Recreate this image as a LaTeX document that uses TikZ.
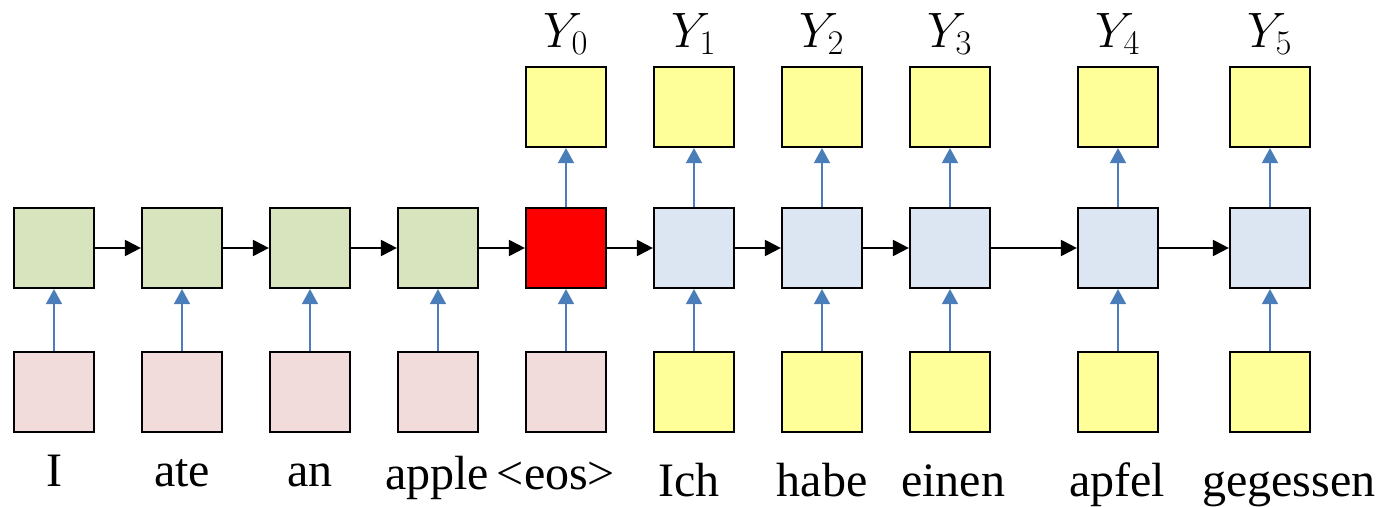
\documentclass[tikz,border=0pt]{standalone}
\usepackage{fontspec}
\setmainfont{Liberation Serif}
\usepackage{tikz}
\usetikzlibrary{arrows.meta}
\definecolor{encgreen}{HTML}{D7E4BD}
\definecolor{inpink}{HTML}{F2DCDB}
\definecolor{declight}{HTML}{DCE6F2}
\definecolor{outyellow}{HTML}{FFFF99}
\definecolor{upblue}{HTML}{4A7EBB}
\tikzset{
  cellbox/.style={draw, line width=1.1pt, minimum width=40pt, minimum height=40pt, inner sep=0pt},
  encnode/.style={cellbox, fill=encgreen},
  innode/.style={cellbox, fill=inpink},
  ctxnode/.style={cellbox, fill=red},
  decnode/.style={cellbox, fill=declight},
  ynode/.style={cellbox, fill=outyellow},
  wordlabel/.style={font=\fontsize{24}{28}\selectfont, inner sep=0pt, anchor=base},
  ylabel/.style={font=\fontsize{24}{28}\selectfont, inner sep=0pt},
  flowarrow/.style={-{Triangle[length=8pt, width=8pt]}, line width=1pt},
  uparrow/.style={-{Triangle[length=7.5pt, width=8pt]}, line width=0.85pt, draw=upblue, fill=upblue}
}
\begin{document}
\begin{tikzpicture}[x=0.5pt, y=-0.5pt]
  \useasboundingbox (0,0) rectangle (1382,507);
  % input row
  \node[innode] (in1) at (54,392) {};
  \node[innode] (in2) at (182,392) {};
  \node[innode] (in3) at (310,392) {};
  \node[innode] (in4) at (438,392) {};
  \node[innode] (in5) at (566,392) {};
  \node[ynode] (yin1) at (694,392) {};
  \node[ynode] (yin2) at (822,392) {};
  \node[ynode] (yin3) at (950,392) {};
  \node[ynode] (yin4) at (1118,392) {};
  \node[ynode] (yin5) at (1270,392) {};
  % recurrent row
  \node[encnode] (enc1) at (54,248) {};
  \node[encnode] (enc2) at (182,248) {};
  \node[encnode] (enc3) at (310,248) {};
  \node[encnode] (enc4) at (438,248) {};
  \node[ctxnode] (ctx) at (566,248) {};
  \node[decnode] (dec1) at (694,248) {};
  \node[decnode] (dec2) at (822,248) {};
  \node[decnode] (dec3) at (950,248) {};
  \node[decnode] (dec4) at (1118,248) {};
  \node[decnode] (dec5) at (1270,248) {};
  % output row
  \node[ynode] (out0) at (566,107) {};
  \node[ynode] (out1) at (694,107) {};
  \node[ynode] (out2) at (822,107) {};
  \node[ynode] (out3) at (950,107) {};
  \node[ynode] (out4) at (1118,107) {};
  \node[ynode] (out5) at (1270,107) {};
  % labels
  \node[ylabel] (lab0) at (566,34) {$Y_0$};
  \node[ylabel] (lab1) at (694,34) {$Y_1$};
  \node[ylabel] (lab2) at (822,34) {$Y_2$};
  \node[ylabel] (lab3) at (950,34) {$Y_3$};
  \node[ylabel] (lab4) at (1118,34) {$Y_4$};
  \node[ylabel] (lab5) at (1270,34) {$Y_5$};
  \node[wordlabel] (w1) at (54,487) {I};
  \node[wordlabel] (w2) at (182,487) {ate};
  \node[wordlabel] (w3) at (310,487) {an};
  \node[wordlabel] (w4) at (437,490) {apple};
  \node[wordlabel] (w5) at (556,490) {<eos>};
  \node[wordlabel] (w6) at (689,497) {Ich};
  \node[wordlabel] (w7) at (822,497) {habe};
  \node[wordlabel] (w8) at (953,497) {einen};
  \node[wordlabel] (w9) at (1117,497) {apfel};
  \node[wordlabel] (w10) at (1289,497) {gegessen};
  % connectors
  \draw[flowarrow] (enc1) -- (enc2);
  \draw[flowarrow] (enc2) -- (enc3);
  \draw[flowarrow] (enc3) -- (enc4);
  \draw[flowarrow] (enc4) -- (ctx);
  \draw[flowarrow] (ctx) -- (dec1);
  \draw[flowarrow] (dec1) -- (dec2);
  \draw[flowarrow] (dec2) -- (dec3);
  \draw[flowarrow] (dec3) -- (dec4);
  \draw[flowarrow] (dec4) -- (dec5);
  \draw[uparrow] (in1) -- (enc1);
  \draw[uparrow] (in2) -- (enc2);
  \draw[uparrow] (in3) -- (enc3);
  \draw[uparrow] (in4) -- (enc4);
  \draw[uparrow] (in5) -- (ctx);
  \draw[uparrow] (yin1) -- (dec1);
  \draw[uparrow] (yin2) -- (dec2);
  \draw[uparrow] (yin3) -- (dec3);
  \draw[uparrow] (yin4) -- (dec4);
  \draw[uparrow] (yin5) -- (dec5);
  \draw[uparrow] (ctx) -- (out0);
  \draw[uparrow] (dec1) -- (out1);
  \draw[uparrow] (dec2) -- (out2);
  \draw[uparrow] (dec3) -- (out3);
  \draw[uparrow] (dec4) -- (out4);
  \draw[uparrow] (dec5) -- (out5);
\end{tikzpicture}
\end{document}
